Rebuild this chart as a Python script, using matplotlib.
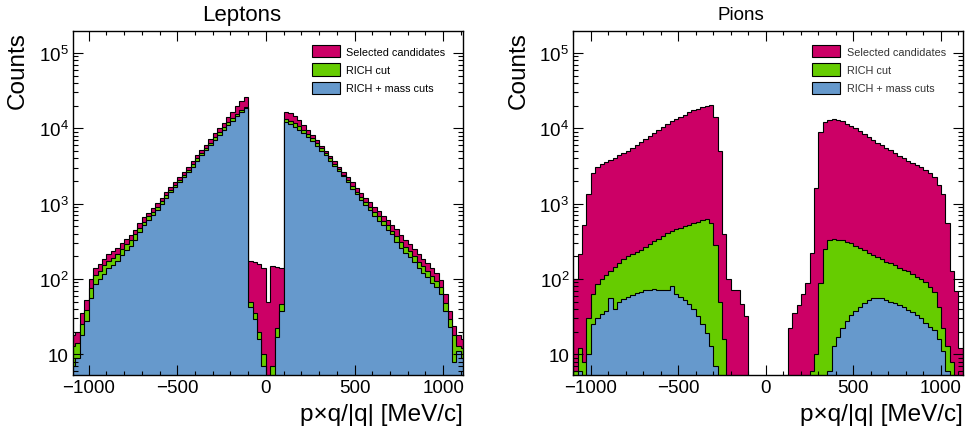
import numpy as np
import matplotlib
matplotlib.use("Agg")
import matplotlib.pyplot as plt
from matplotlib.patches import Patch
from matplotlib.ticker import MultipleLocator, LogLocator, FixedLocator, NullFormatter

# histogram binning: 25 MeV/c bins, first edge at -1100
bin_lo, bin_w, n_bins = -1100, 25, 89

# ---- Leptons ----
lep_sel = [18, 20, 35, 52, 100, 141, 158, 186, 214, 234, 257, 302, 339, 380, 447, 550, 661, 759, 871, 1023,
           1202, 1413, 1660, 1950, 2240, 2630, 3090, 3630, 4365, 5130, 6030, 7240, 8510, 10000, 11750, 14130,
           16600, 19500, 22900, 26300,
           175, 168, 160, 140, 50, 150, 145, 140,
           16600, 15850, 14450, 12880, 10960, 9330, 8130, 6920, 5890, 5010, 4270, 3630, 3090, 2630, 2240, 1905,
           1620, 1380, 1200, 1050, 912, 794, 692, 603, 525, 457, 380, 331, 288, 251, 214, 186, 162, 138, 120, 98,
           63, 38, 24, 18, 16]
lep_rich = [13, 14, 25, 39, 76, 112, 126, 151, 174, 191, 214, 251, 288, 324, 389, 479, 575, 676, 776, 912,
            1072, 1288, 1514, 1778, 2042, 2399, 2818, 3311, 3981, 4677, 5495, 6457, 7586, 8913, 10230, 12020,
            13800, 15490, 17380, 19050,
            50, 35, 20, 10, 4, 7, 22, 46,
            13180, 12590, 11750, 10720, 9330, 8320, 7410, 6310, 5500, 4680, 3980, 3390, 2880, 2400, 2040, 1700,
            1445, 1230, 1050, 912, 776, 676, 589, 513, 437, 372, 309, 269, 234, 204, 170, 148, 129, 110, 95, 78,
            48, 29, 18, 13, 12]
lep_mass = [7, 9, 18, 28, 56, 85, 100, 117, 138, 155, 174, 209, 240, 275, 331, 417, 513, 603, 708, 832,
            1000, 1175, 1413, 1660, 1905, 2239, 2630, 3090, 3715, 4365, 5130, 6030, 7080, 8130, 9330, 10960,
            12590, 14450, 16600, 18620,
            42, 29, 16, 7, 3, 5, 17, 38,
            12020, 11480, 10470, 9330, 8710, 7590, 6760, 5890, 5010, 4365, 3715, 3160, 2690, 2290, 1950, 1550,
            1320, 1120, 955, 832, 676, 589, 513, 447, 389, 309, 257, 224, 195, 170, 138, 120, 105, 89, 78, 63,
            38, 23, 8, 11, 9]

# ---- Pions ----
pi_sel = [100, 214, 525, 1320, 2510, 3090, 3310, 3550, 3800, 4070, 4370, 4680, 5010, 5500, 6030, 6610, 7240,
          7940, 8710, 9550, 10470, 11480, 12300, 13180, 14130, 15140, 16220, 17380, 18200, 19050, 19950, 20400,
          14100, 5000, 400, 100, 71, 72, 47, 32,
          0, 0, 0, 0, 0, 0, 0, 0,
          0, 22, 35, 45, 63, 89, 224, 1585, 8900, 12000, 12900, 13180, 12880, 12300, 11480, 10720, 10000, 9120,
          8320, 7760, 7080, 6460, 6030, 5500, 5130, 4680, 4270, 3980, 3720, 3470, 3240, 3020, 2820, 2570, 2240,
          1780, 1320, 560, 126, 70, 12]
pi_rich = [6, 12, 8, 30, 63, 85, 100, 112, 126, 145, 162, 182, 200, 214, 229, 245, 263, 288, 316, 339,
           372, 407, 437, 457, 479, 501, 525, 550, 575, 603, 631, 560, 280, 50, 16, 0, 0, 0, 0, 0,
           0, 0, 0, 0, 0, 0, 0, 0,
           0, 0, 0, 0, 0, 0, 6, 10, 89, 251, 331, 339, 331, 324, 309, 295, 275, 257, 240, 224, 209, 195, 182,
           170, 162, 151, 141, 132, 126, 117, 107, 100, 91, 79, 66, 42, 22, 13, 8, 0, 0]
pi_mass = [4, 6, 4, 10, 25, 30, 34, 38, 55, 40, 50, 54, 58, 62, 65, 68, 71, 72, 74, 72,
           72, 71, 80, 63, 58, 52, 46, 40, 32, 25, 19, 13, 7, 0, 0, 0, 0, 0, 0, 0,
           0, 0, 0, 0, 0, 0, 0, 0,
           0, 0, 0, 0, 0, 0, 0, 0, 0, 0, 6, 13, 17, 22, 28, 33, 38, 43, 48, 52, 55, 56, 55, 52, 50, 48, 45,
           42, 39, 36, 33, 30, 26, 23, 21, 16, 11, 6, 0, 0, 0]

labels = ["Selected candidates", "RICH cut", "RICH + mass cuts"]
colors = ["#cc0066", "#66cc00", "#6699cc"]

plt.rcParams["font.family"] = ["Liberation Sans", "DejaVu Sans"]
plt.rcParams["mathtext.default"] = "regular"

edges = bin_lo + bin_w * np.arange(n_bins + 1)

fig = plt.figure(figsize=(9.68, 4.35), dpi=100)
ax_l = fig.add_axes([0.0751, 0.1356, 0.4029, 0.7908])
ax_r = fig.add_axes([0.5923, 0.1356, 0.4023, 0.7908])


def draw(ax, series, xlim, leg_x, txt_color):
    for vals, c in zip(series, colors):
        v = np.maximum(np.asarray(vals, dtype=float), 1.0)
        ax.stairs(v, edges, baseline=1.0, fill=True, facecolor=c,
                  edgecolor="black", linewidth=0.8)
    ax.set_yscale("log")
    ax.set_xlim(*xlim)
    ax.set_ylim(5.3, 1.95e5)

    ax.yaxis.set_major_locator(FixedLocator([10, 1e2, 1e3, 1e4, 1e5]))
    ax.set_yticklabels(["10", "$10^{2}$", "$10^{3}$", "$10^{4}$", "$10^{5}$"])
    ax.yaxis.set_minor_locator(LogLocator(base=10, subs=np.arange(2, 10) * 1.0, numticks=20))
    ax.yaxis.set_minor_formatter(NullFormatter())
    ax.xaxis.set_major_locator(MultipleLocator(500))
    ax.xaxis.set_minor_locator(MultipleLocator(100))

    ax.tick_params(which="both", direction="in", top=True, right=True, width=0.8,
                   labelsize=13.5, pad=3)
    ax.tick_params(which="major", length=7)
    ax.tick_params(axis="y", which="minor", length=3.6)
    ax.tick_params(axis="x", which="minor", length=2.8)
    for s in ax.spines.values():
        s.set_linewidth(1.0)

    ax.text(-0.14, 1.0, "Counts", rotation=90, ha="center", va="top",
            fontsize=17.5, transform=ax.transAxes)
    ax.text(1.0, -0.131, "p\u00d7q/|q| [MeV/c]", ha="right", va="baseline",
            fontsize=17.5, transform=ax.transAxes)

    handles = [Patch(facecolor=c, edgecolor="black", linewidth=0.8) for c in colors]
    leg = ax.legend(handles, labels, loc="upper left", bbox_to_anchor=(leg_x, 1 - 45.7 / 435),
                    bbox_transform=fig.transFigure, frameon=False, fontsize=7.8,
                    borderpad=0, borderaxespad=0, handlelength=2.6, handleheight=1.4,
                    labelspacing=0.55, handletextpad=0.6)
    for t in leg.get_texts():
        t.set_color(txt_color)


draw(ax_l, [lep_sel, lep_rich, lep_mass], (-1090, 1110), 311.7 / 968, "black")
draw(ax_r, [pi_sel, pi_rich, pi_mass], (-1100, 1125), 812.3 / 968, "#333333")

fig.text(242 / 968, 0.952, "Leptons", ha="center", va="baseline", fontsize=16)
fig.text(741 / 968, 0.953, "Pions", ha="center", va="baseline", fontsize=13.5)

fig.savefig("out.png", dpi=100)
